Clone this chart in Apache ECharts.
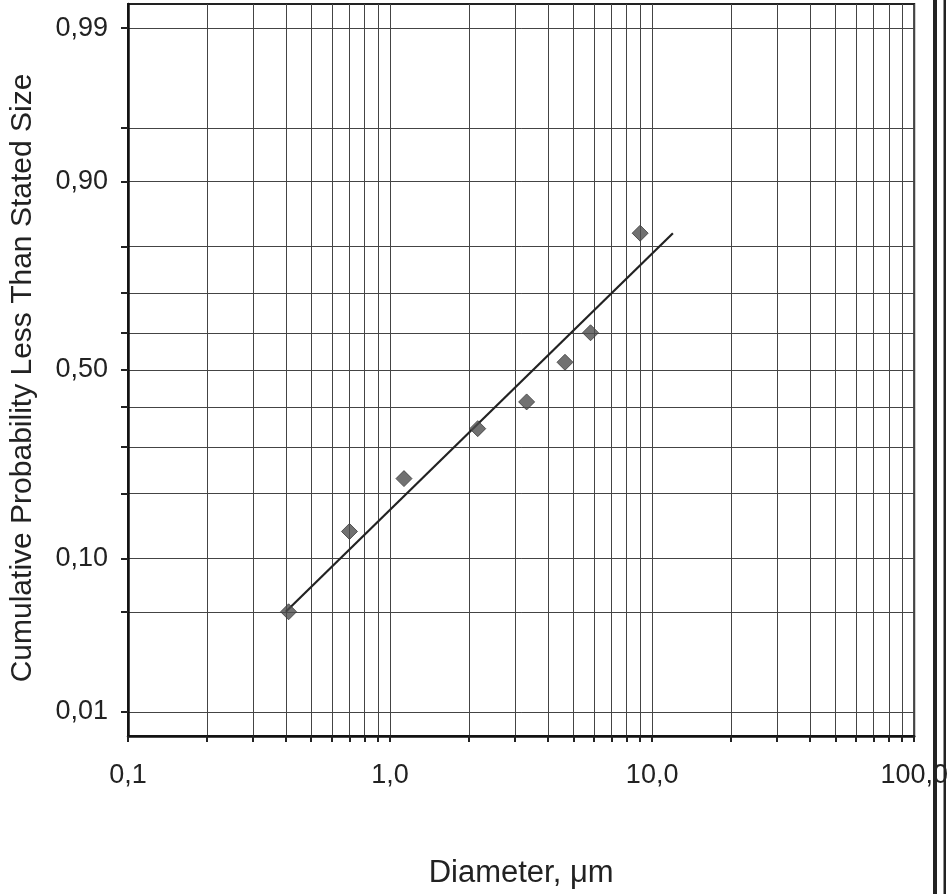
<!DOCTYPE html>
<html>
<head>
<meta charset="utf-8">
<script src="https://cdn.jsdelivr.net/npm/echarts@6/dist/echarts.min.js"></script>
<style>
  html, body { margin: 0; padding: 0; background: #fff; }
  #chart { width: 951px; height: 894px; }
</style>
</head>
<body>
<div id="chart"></div>
<script>
// measured points
var diameters = [0.41, 0.70, 1.13, 2.16, 3.32, 4.65, 5.82, 9.0];
var cumProb = [0.05, 0.136, 0.23, 0.345, 0.414, 0.521, 0.60, 0.824];
// fitted line ends
var fitDiam = [0.40, 12.0];
var fitProb = [0.05, 0.824];
// probability grid and labels
var gridProbs = [0.01, 0.05, 0.10, 0.20, 0.30, 0.40, 0.50, 0.60, 0.70, 0.80, 0.90, 0.95, 0.99];
var labelProbs = [0.01, 0.10, 0.50, 0.90, 0.99];
var gridDiam = [0.1, 0.2, 0.3, 0.4, 0.5, 0.6, 0.7, 0.8, 0.9,
                1, 2, 3, 4, 5, 6, 7, 8, 9,
                10, 20, 30, 40, 50, 60, 70, 80, 90, 100];
var labelDiam = [0.1, 1, 10, 100];

// inverse normal cdf (Acklam)
function probit(p) {
    var a = [-3.969683028665376e+01, 2.209460984245205e+02, -2.759285104469687e+02, 1.383577518672690e+02, -3.066479806614716e+01, 2.506628277459239e+00];
    var b = [-5.447609879822406e+01, 1.615858368580409e+02, -1.556989798598866e+02, 6.680131188771972e+01, -1.328068155288572e+01];
    var c = [-7.784894002430293e-03, -3.223964580411365e-01, -2.400758277161838e+00, -2.549732539343734e+00, 4.374664141464968e+00, 2.938163982698783e+00];
    var d = [7.784695709041462e-03, 3.224671290700398e-01, 2.445134137142996e+00, 3.754408661907416e+00];
    var pl = 0.02425, q, r;
    if (p < pl) {
        q = Math.sqrt(-2 * Math.log(p));
        return (((((c[0]*q+c[1])*q+c[2])*q+c[3])*q+c[4])*q+c[5]) / ((((d[0]*q+d[1])*q+d[2])*q+d[3])*q+1);
    }
    if (p > 1 - pl) {
        q = Math.sqrt(-2 * Math.log(1 - p));
        return -(((((c[0]*q+c[1])*q+c[2])*q+c[3])*q+c[4])*q+c[5]) / ((((d[0]*q+d[1])*q+d[2])*q+d[3])*q+1);
    }
    q = p - 0.5; r = q * q;
    return (((((a[0]*r+a[1])*r+a[2])*r+a[3])*r+a[4])*r+a[5])*q / (((((b[0]*r+b[1])*r+b[2])*r+b[3])*r+b[4])*r+1);
}

var font = '"Liberation Sans", Arial, sans-serif';
var myChart = echarts.init(document.getElementById('chart'));

var option = {
    animation: false,
    backgroundColor: '#fff',
    grid: {
        left: 128, right: 33, top: 4, bottom: 155,
        show: true, borderColor: '#222', borderWidth: 2
    },
    xAxis: {
        type: 'log', logBase: 10, min: 0.1, max: 100,
        name: 'Diameter, \u03bcm',
        nameLocation: 'middle', nameGap: 122,
        nameTextStyle: { fontFamily: font, fontSize: 31, color: '#222' },
        axisLine: { onZero: false, lineStyle: { color: '#111', width: 2.5 } },
        axisTick: { show: true, inside: false, length: 6, customValues: gridDiam,
            lineStyle: { color: '#222', width: 2 } },
        axisLabel: {
            customValues: labelDiam, margin: 26,
            fontFamily: font, fontSize: 27, color: '#222',
            formatter: function (v) { return (+v).toFixed(1).replace('.', ','); }
        },
        splitLine: { show: true, lineStyle: { color: '#444', width: 1 } },
        minorTick: { show: false },
        minorSplitLine: { show: false }
    },
    yAxis: {
        type: 'value', min: -2.49, max: 2.49,
        name: 'Cumulative Probability Less Than Stated Size',
        nameLocation: 'middle', nameGap: 90, nameRotate: 90,
        nameTextStyle: { fontFamily: font, fontSize: 30, color: '#222', padding: [0, 16, 0, 0] },
        axisLine: { show: true, onZero: false, lineStyle: { color: '#111', width: 2.5 } },
        axisTick: { show: true, inside: false, length: 7,
            customValues: gridProbs.map(probit),
            lineStyle: { color: '#222', width: 2 } },
        axisLabel: {
            customValues: labelProbs.map(probit), margin: 20,
            fontFamily: font, fontSize: 27, color: '#222',
            formatter: function (v) {
                for (var i = 0; i < labelProbs.length; i++) {
                    if (Math.abs(probit(labelProbs[i]) - v) < 1e-6) {
                        return labelProbs[i].toFixed(2).replace('.', ',');
                    }
                }
                return '';
            }
        },
        splitLine: { show: true, lineStyle: { color: '#444', width: 1 } }
    },
    graphic: [
        { type: 'rect', z: 100, shape: { x: 933, y: 0, width: 4, height: 894 }, style: { fill: '#222' } },
        { type: 'rect', z: 100, shape: { x: 943.5, y: 0, width: 2.5, height: 894 }, style: { fill: '#222' } }
    ],
    series: [
        {
            type: 'line',
            data: fitDiam.map(function (d, i) { return [d, probit(fitProb[i])]; }),
            symbol: 'none',
            lineStyle: { color: '#222', width: 2.2 },
            z: 3
        },
        {
            type: 'scatter',
            data: diameters.map(function (d, i) { return [d, probit(cumProb[i])]; }),
            symbol: 'diamond',
            symbolSize: 16,
            itemStyle: { color: '#4d4d4d', borderColor: '#3a3a3a', borderWidth: 1 },
            z: 4
        }
    ]
};

myChart.setOption(option);
</script>
</body>
</html>
